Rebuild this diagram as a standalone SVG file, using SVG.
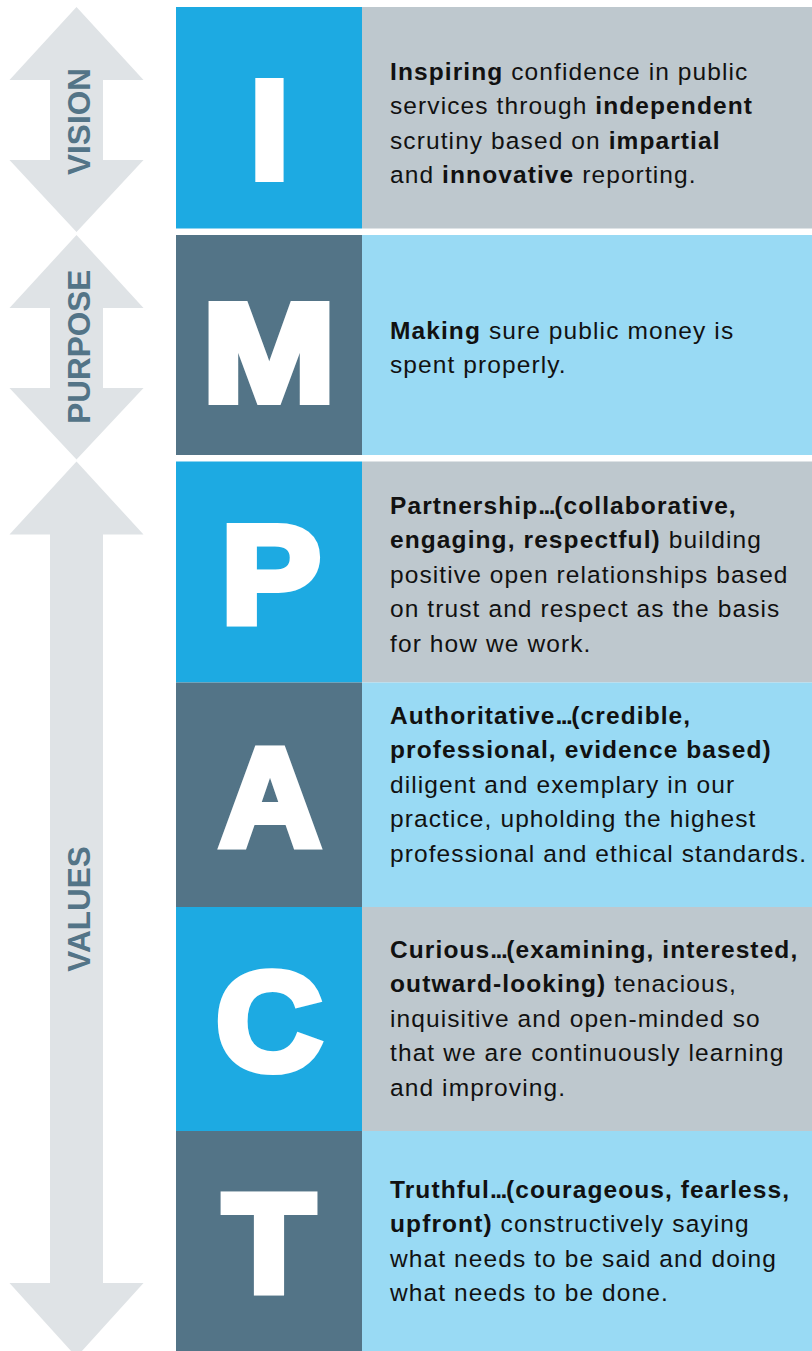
<svg xmlns="http://www.w3.org/2000/svg" width="812" height="1351" viewBox="0 0 812 1351">
<style>
.arrow{fill:#DFE3E6}
.alab{font-family:"Liberation Sans",Arial,sans-serif;font-weight:700;font-size:31.5px;fill:#537487;text-anchor:middle}
.blue{fill:#1DAAE2}
.slate{fill:#537487}
.grey{fill:#BEC8CE}
.lblue{fill:#99DAF4}
.letter{font-family:"Liberation Sans",Arial,sans-serif;font-weight:700;font-size:140px;fill:#fff;stroke:#fff;stroke-width:8;stroke-linejoin:miter;text-anchor:middle}
.body{font-family:"Liberation Sans",Arial,sans-serif;font-size:24.5px;letter-spacing:1.1px;fill:#111}
.b{font-weight:700}
.dots{letter-spacing:-1.5px}
</style>
<rect width="812" height="1351" fill="#fff"/>
<g id="vision">
<polygon class="arrow" points="76.5,7 143.5,80 103,80 103,160 143.5,160 76.5,232 9.5,160 50,160 50,80 9.5,80"/>
<text class="alab" transform="translate(89.5,121.5) rotate(-90)">VISION</text>
</g>
<g id="purpose">
<polygon class="arrow" points="76.5,235 143.5,308 103,308 103,388 143.5,388 76.5,459.5 9.5,388 50,388 50,308 9.5,308"/>
<text class="alab" transform="translate(89.5,346.7) rotate(-90)">PURPOSE</text>
</g>
<g id="values">
<polygon class="arrow" points="76.5,461.5 143.5,534.5 103,534.5 103,1283 143.5,1283 76.5,1357 9.5,1283 50,1283 50,534.5 9.5,534.5"/>
<text class="alab" transform="translate(89.5,909) rotate(-90)">VALUES</text>
</g>
<g id="row-i">
<rect class="blue" x="176" y="7" width="186" height="221.5"/>
<rect class="grey" x="362" y="7" width="450" height="221.5"/>
<text class="letter" transform="translate(269.5,178)">I</text>
<text class="body"><tspan x="390" y="79.5"><tspan class="b">Inspiring</tspan> confidence in public</tspan><tspan x="390" y="114">services through <tspan class="b">independent</tspan></tspan><tspan x="390" y="148.5">scrutiny based on <tspan class="b">impartial</tspan></tspan><tspan x="390" y="183">and <tspan class="b">innovative</tspan> reporting.</tspan></text>
</g>
<g id="row-m">
<rect class="slate" x="176" y="235" width="186" height="220"/>
<rect class="lblue" x="362" y="235" width="450" height="220"/>
<text class="letter" transform="translate(269,401) scale(1.14,1)">M</text>
<text class="body"><tspan x="390" y="338.5"><tspan class="b">Making</tspan> sure public money is</tspan><tspan x="390" y="373">spent properly.</tspan></text>
</g>
<g id="row-p">
<rect class="blue" x="176" y="461.5" width="186" height="221"/>
<rect class="grey" x="362" y="461.5" width="450" height="221"/>
<text class="letter" transform="translate(271,623) scale(1.07,1)">P</text>
<text class="body"><tspan x="390" y="513.5" class="b">Partnership<tspan class="dots">...</tspan>(collaborative,</tspan><tspan x="390" y="548"><tspan class="b">engaging, respectful)</tspan> building</tspan><tspan x="390" y="582.5">positive open relationships based</tspan><tspan x="390" y="617">on trust and respect as the basis</tspan><tspan x="390" y="651.5">for how we work.</tspan></text>
</g>
<g id="row-a">
<rect class="slate" x="176" y="682.5" width="186" height="224.5"/>
<rect class="lblue" x="362" y="682.5" width="450" height="224.5"/>
<text class="letter" transform="translate(270,846)">A</text>
<text class="body"><tspan x="390" y="723.5" class="b">Authoritative<tspan class="dots">...</tspan>(credible,</tspan><tspan x="390" y="758" class="b">professional, evidence based)</tspan><tspan x="390" y="792.5">diligent and exemplary in our</tspan><tspan x="390" y="827">practice, upholding the highest</tspan><tspan x="390" y="861.5">professional and ethical standards.</tspan></text>
</g>
<g id="row-c">
<rect class="blue" x="176" y="907" width="186" height="224"/>
<rect class="grey" x="362" y="907" width="450" height="224"/>
<text class="letter" transform="translate(269,1070) scale(1.05,1)">C</text>
<text class="body"><tspan x="390" y="957.5" class="b">Curious<tspan class="dots">...</tspan>(examining, interested,</tspan><tspan x="390" y="992"><tspan class="b">outward-looking)</tspan> tenacious,</tspan><tspan x="390" y="1026.5">inquisitive and open-minded so</tspan><tspan x="390" y="1061">that we are continuously learning</tspan><tspan x="390" y="1095.5">and improving.</tspan></text>
</g>
<g id="row-t">
<rect class="slate" x="176" y="1131" width="186" height="220"/>
<rect class="lblue" x="362" y="1131" width="450" height="220"/>
<text class="letter" transform="translate(269,1291) scale(1.07,1)">T</text>
<text class="body"><tspan x="390" y="1197.5" class="b">Truthful<tspan class="dots">...</tspan>(courageous, fearless,</tspan><tspan x="390" y="1232"><tspan class="b">upfront)</tspan> constructively saying</tspan><tspan x="390" y="1266.5">what needs to be said and doing</tspan><tspan x="390" y="1301">what needs to be done.</tspan></text>
</g>
</svg>
